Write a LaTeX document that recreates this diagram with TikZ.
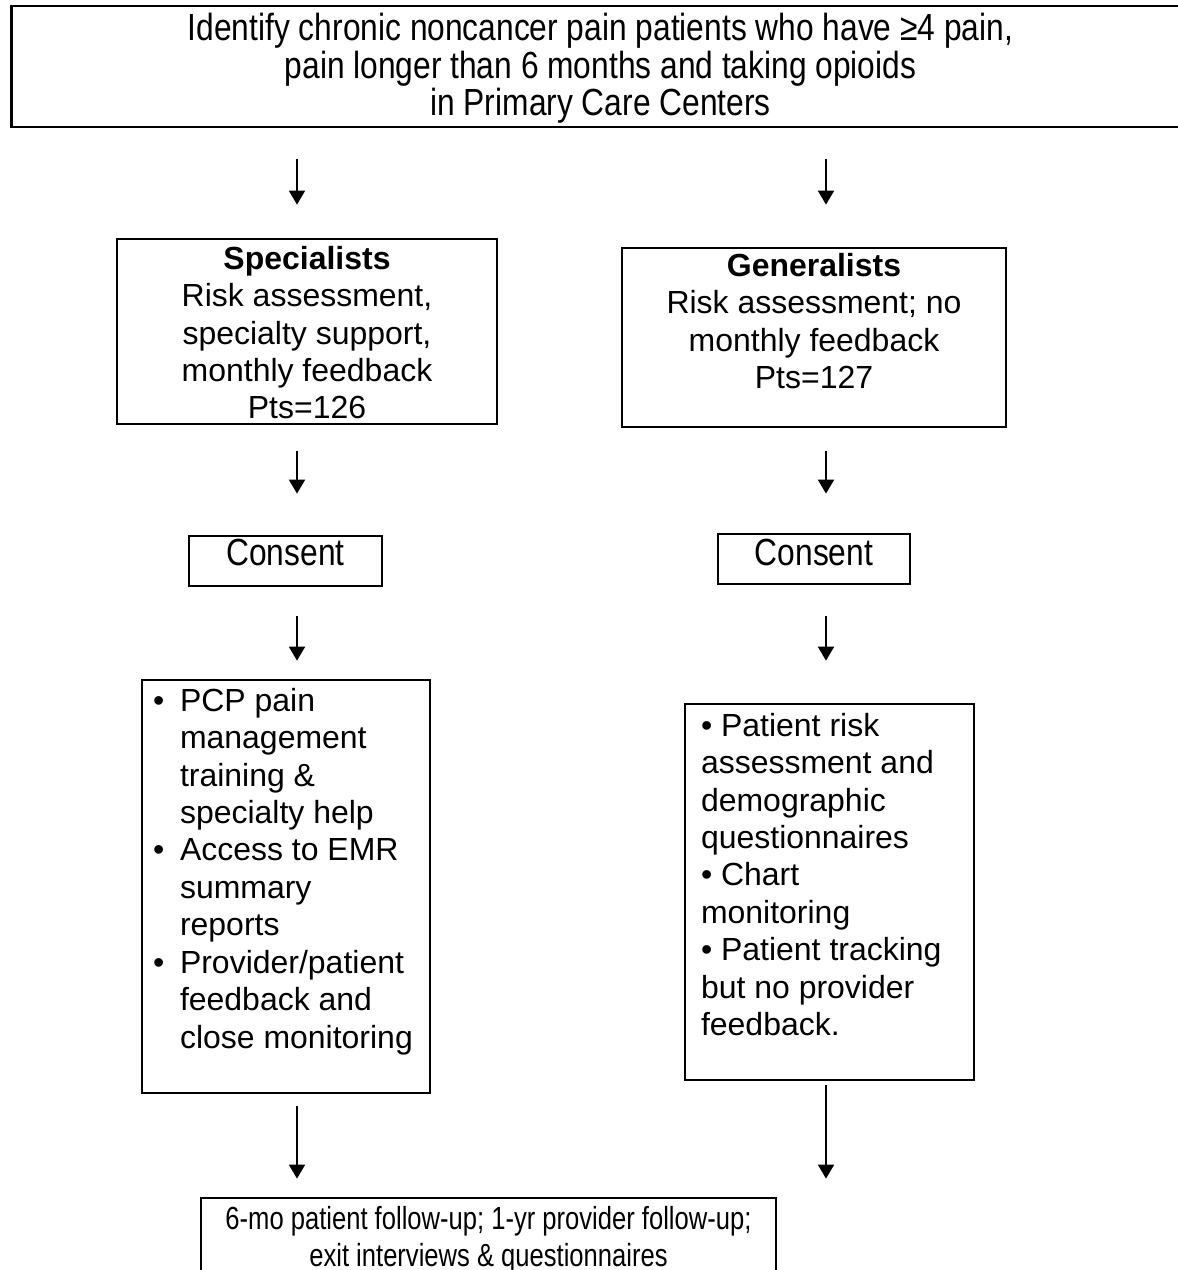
\documentclass[tikz,border=0pt]{standalone}
\usepackage{fontspec}
\setmainfont{Liberation Sans}
\newfontfamily\narrowfont[FakeStretch=0.8]{Liberation Sans}
\newfontfamily\tallfont[FakeStretch=0.84]{Liberation Sans}
\usetikzlibrary{arrows.meta}
\tikzset{
  panel/.style={draw=black, line width=1.6pt, rectangle, inner sep=0pt, fill=none},
  flow/.style={-{Triangle[length=0.28cm, width=0.32cm]}, line width=1.1pt, draw=black}
}

\begin{document}
\begin{tikzpicture}[x=0.02cm, y=-0.02cm, font=\fontsize{18.2pt}{21.3pt}\selectfont]
  \useasboundingbox (0,0) rectangle (1177,1270);
  \coordinate (colL) at (297,0);
  \coordinate (colR) at (826,0);
  \node[panel] (top) at (600.5,66.5) {\parbox[t][2.42cm][t]{23.58cm}{\centering\tallfont\fontsize{21.5pt}{21.5pt}\selectfont\vspace*{0.14cm}Identify chronic noncancer pain patients who have ≥4 pain,\\pain longer than 6 months and taking opioids\\in Primary Care Centers}};
  \node[panel] (spec) at (307,331.5) {\parbox[t][3.7cm][t]{7.6cm}{\centering\vspace*{0.14cm}\textbf{Specialists}\\Risk assessment,\\specialty support,\\monthly feedback\\Pts=126}};
  \node[panel] (gen) at (814,337.5) {\parbox[t][3.58cm][t]{7.68cm}{\centering\vspace*{0.1cm}\textbf{Generalists}\\Risk assessment; no\\monthly feedback\\Pts=127}};
  \node[panel] (consL) at (285.5,561) {\parbox[t][1cm][t]{3.86cm}{\centering\tallfont\fontsize{21.5pt}{21.5pt}\selectfont\vspace*{0.06cm}Consent}};
  \node[panel] (consR) at (814,559) {\parbox[t][1cm][t]{3.84cm}{\centering\tallfont\fontsize{21.5pt}{21.5pt}\selectfont\vspace*{0.1cm}Consent}};
  \node[panel] (bulL) at (286,886.5) {\parbox[t][8.26cm][t]{5.76cm}{\raggedright\leftskip=0.22cm\vspace*{0.16cm}%
    \makebox[0.54cm][l]{•}PCP pain\\
    \hspace*{0.54cm}management\\
    \hspace*{0.54cm}training \&\\
    \hspace*{0.54cm}specialty help\\
    \makebox[0.54cm][l]{•}Access to EMR\\
    \hspace*{0.54cm}summary\\
    \hspace*{0.54cm}reports\\
    \makebox[0.54cm][l]{•}Provider/patient\\
    \hspace*{0.54cm}feedback and\\
    \hspace*{0.54cm}close monitoring}};
  \node[panel] (bulR) at (829.5,892) {\parbox[t][7.52cm][t]{5.78cm}{\raggedright\leftskip=0.32cm\vspace*{0.18cm}%
    • Patient risk\\
    assessment and\\
    demographic\\
    questionnaires\\
    • Chart\\
    monitoring\\
    • Patient tracking\\
    but no provider\\
    feedback.}};
  \node[panel] (bot) at (488.5,1239) {\parbox[t][1.64cm][t]{11.5cm}{\centering\narrowfont\vspace*{0.16cm}6-mo patient follow-up; 1-yr provider follow-up;\\exit interviews \& questionnaires}};
  \draw[flow, shorten <=0.62cm, shorten >=0.66cm] (top.south -| colL) -- (spec.north -| colL);
  \draw[flow, shorten <=0.62cm, shorten >=0.84cm] (top.south -| colR) -- (gen.north -| colR);
  \draw[flow, shorten <=0.52cm, shorten >=0.82cm] (spec.south -| colL) -- (consL.north -| colL);
  \draw[flow, shorten <=0.46cm, shorten >=0.78cm] (gen.south -| colR) -- (consR.north -| colR);
  \draw[flow, shorten <=0.58cm, shorten >=0.36cm] (consL.south -| colL) -- (bulL.north -| colL);
  \draw[flow, shorten <=0.62cm, shorten >=0.84cm] (consR.south -| colR) -- (bulR.north -| colR);
  \draw[flow, shorten <=0.24cm, shorten >=0.36cm] (bulL.south -| colL) -- (bot.north -| colL);
  \draw[flow, shorten <=0.08cm, shorten >=0.36cm] (bulR.south -| colR) -- (bot.north -| colR);
\end{tikzpicture}
\end{document}
